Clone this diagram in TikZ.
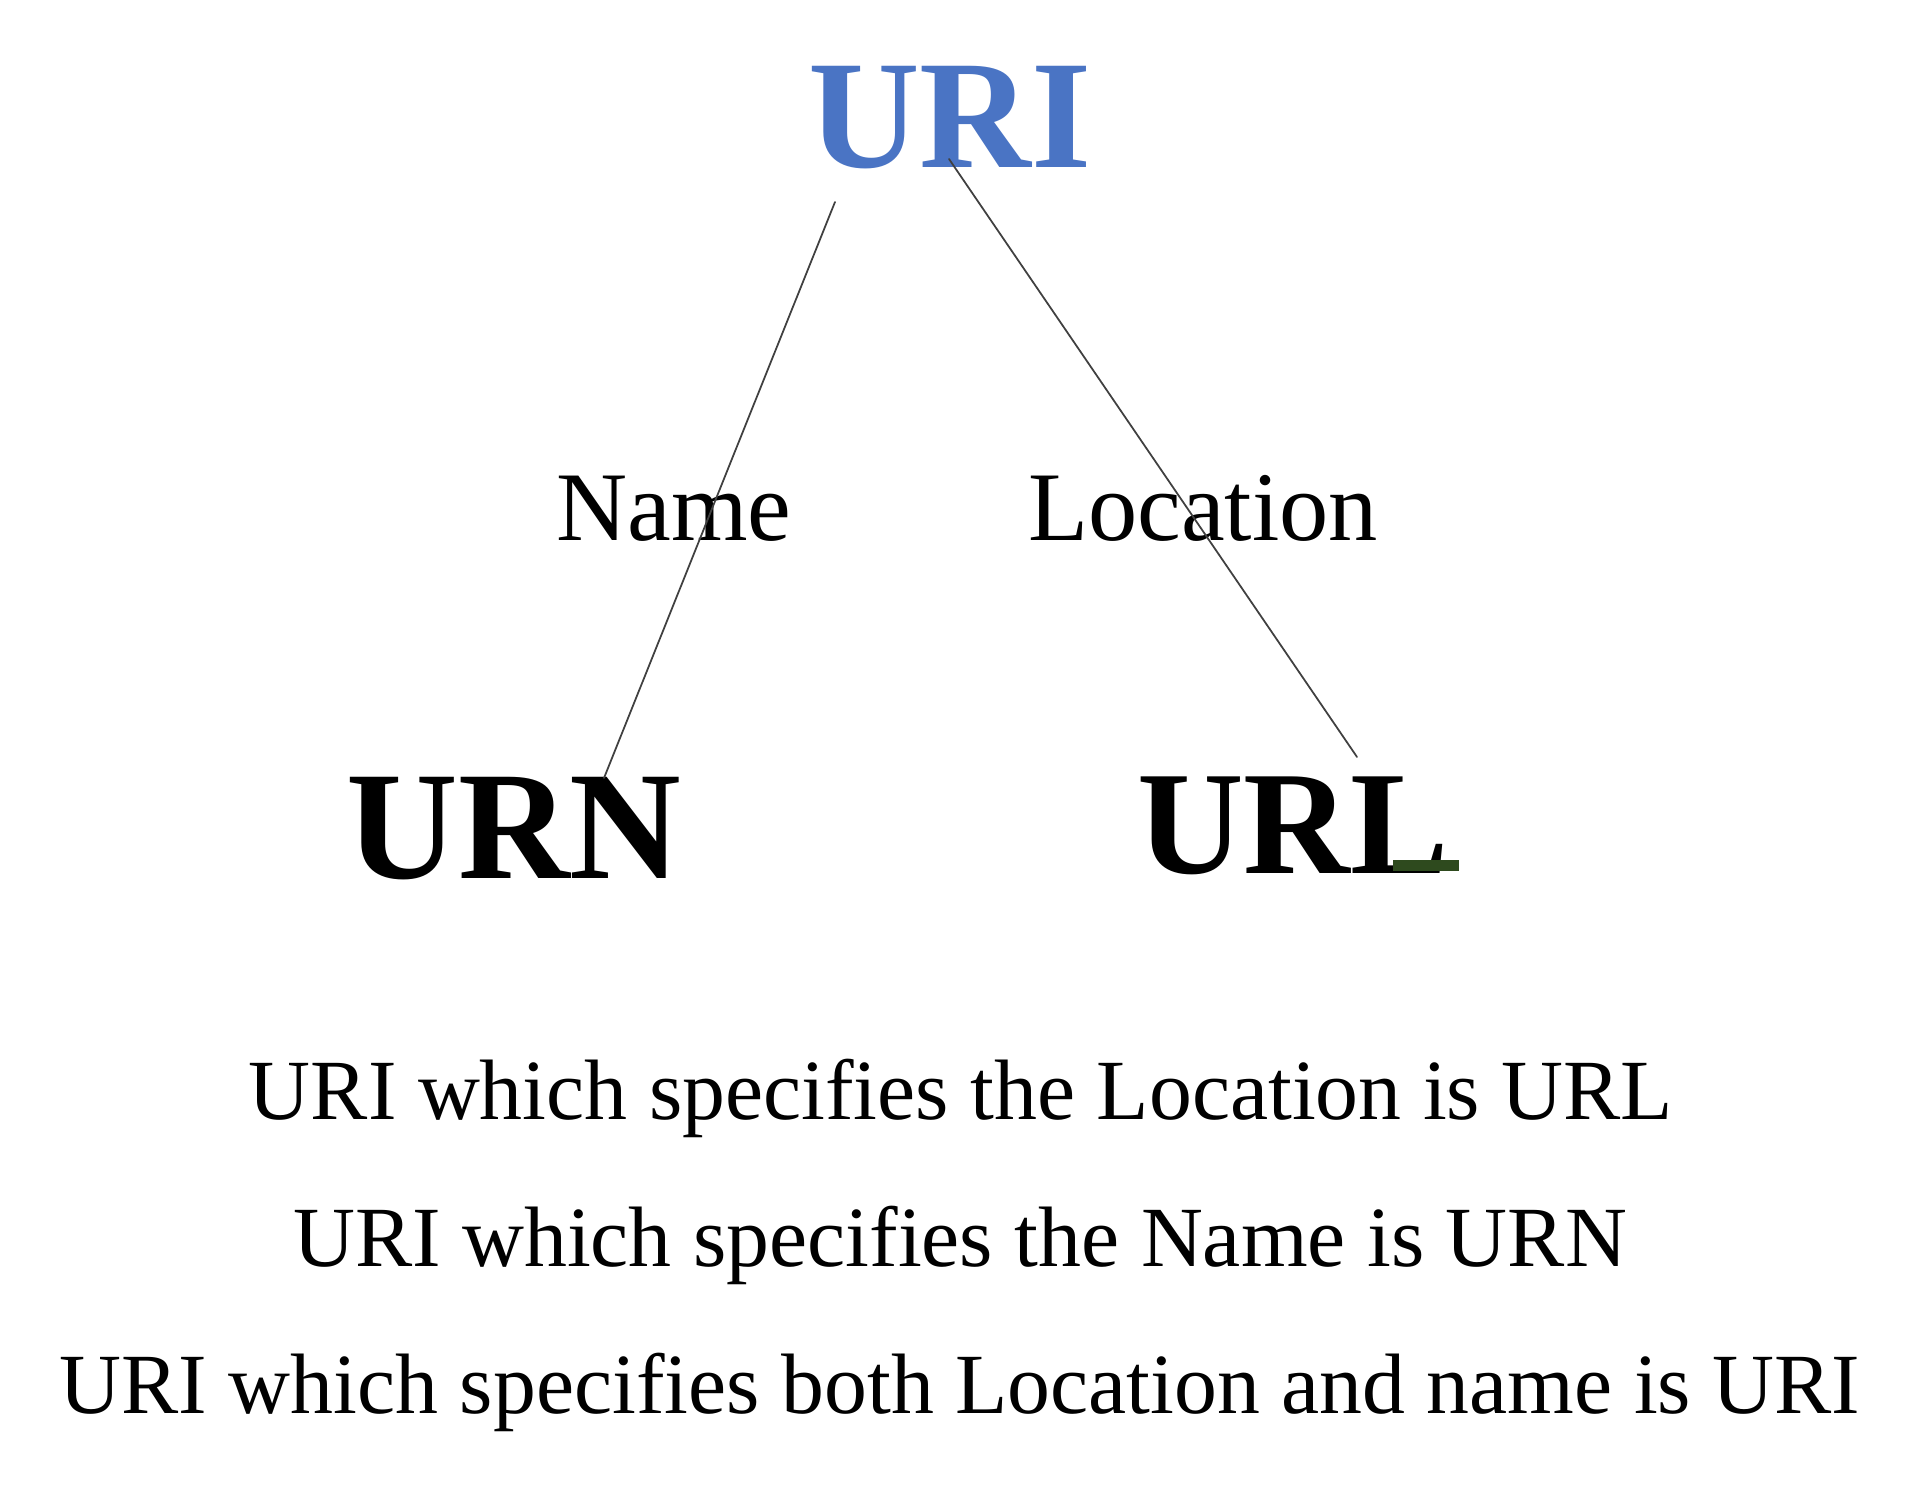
\documentclass[tikz,border=0pt]{standalone}
\usepackage{fontspec}
\setmainfont{Liberation Serif}
\usepackage{xcolor}
\usetikzlibrary{arrows.meta,calc}
\definecolor{uriblue}{HTML}{4A74C4}
\definecolor{bargreen}{HTML}{2E4A1E}
\tikzset{
  big/.style={font=\fontsize{44}{50}\selectfont\bfseries,anchor=base},
  label/.style={font=\fontsize{28}{32}\selectfont,anchor=base},
  note/.style={font=\fontsize{24.4}{28}\selectfont,anchor=base},
  link/.style={line width=0.5pt,color=black!75}
}
\begin{document}
\begin{tikzpicture}[line cap=round,line join=round,x=1cm,y=1cm]
                \useasboundingbox (0,0) rectangle (19.2,14.9);
                \node[big,text=uriblue] (uri) at (9.50,13.22) {URI};
                \node[big] (urn) at (5.14,6.11) {URN};
                \node[big,font=\fontsize{42}{48}\selectfont\bfseries] (url) at (12.93,6.16) {URL};
                \node[label] (name) at (6.74,9.49) {Name};
                \node[label] (location) at (12.03,9.49) {Location};
                % ends of the two links
                \coordinate (uriA) at (8.35,12.88);
                \coordinate (urnA) at (6.04,7.12);
                \coordinate (uriB) at (9.49,13.31);
                \coordinate (urlB) at (13.57,7.33);
                \draw [link] (uriA)-- (urnA);
                \draw [link] (uriB)-- (urlB);
                \fill [bargreen] (13.93,6.19) rectangle (14.59,6.30);
                \node[note] (lineA) at (9.61,3.70) {URI which specifies the Location is URL};
                \node[note] (lineB) at (9.60,2.23) {URI which specifies the Name is URN};
                \node[note] (lineC) at (9.60,0.76) {URI which specifies both Location and name is URI};
            \end{tikzpicture}
\end{document}
